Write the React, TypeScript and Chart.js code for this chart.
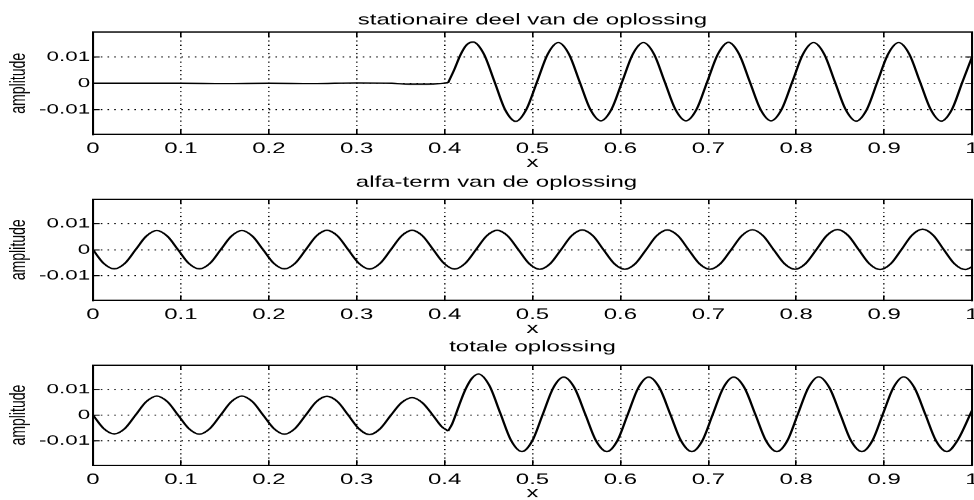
import React, { useEffect, useRef } from 'react';
import { Chart, registerables } from 'chart.js';

Chart.register(...registerables);

// ---------- data ----------
const xTickValues = [0, 0.1, 0.2, 0.3, 0.4, 0.5, 0.6, 0.7, 0.8, 0.9, 1];
const xTickLabels = ['0', '0.1', '0.2', '0.3', '0.4', '0.5', '0.6', '0.7', '0.8', '0.9', '1'];
const yTickValues = [-0.01, 0, 0.01];
const yTickLabels = ['-0.01', '0', '0.01'];
const yMin = -0.0195;
const yMax = 0.0195;

const panelTitles = [
  'stationaire deel van de oplossing',
  'alfa-term van de oplossing',
  'totale oplossing',
];
const xAxisTitle = 'x';
const yAxisTitle = 'amplitude';

// stationary part: flat until the front arrives, then a steady wave
const stationairX = [
  0, 0.05, 0.1, 0.15, 0.2, 0.25, 0.3, 0.34, 0.36, 0.38, 0.395, 0.404,
  0.411, 0.418, 0.425, 0.4325, 0.4446, 0.4568, 0.4689, 0.481,
  0.4931, 0.5052, 0.5173, 0.5294, 0.5415, 0.5536, 0.5657, 0.5778,
  0.5899, 0.602, 0.6141, 0.6262, 0.6383, 0.6504, 0.6625, 0.6746,
  0.6867, 0.6988, 0.7109, 0.723, 0.7351, 0.7472, 0.7593, 0.7714,
  0.7835, 0.7956, 0.8077, 0.8198, 0.8319, 0.844, 0.8561, 0.8682,
  0.8803, 0.8924, 0.9045, 0.9166, 0.9287, 0.9408, 0.9529, 0.965,
  0.9771, 0.9892, 1.0,
];
const stationairY = [
  0, 0, 0, -0.0001, 0, -0.0001, 0.0001, 0, -0.0003, -0.0003, -0.0001, 0.0002,
  0.0052, 0.0108, 0.0146, 0.0157, 0.0112, 0.0006, -0.0101, -0.0145,
  -0.0099, 0.0006, 0.0111, 0.0155, 0.0111, 0.0006, -0.0099, -0.0143,
  -0.0099, 0.0006, 0.0111, 0.0155, 0.0111, 0.0006, -0.0099, -0.0143,
  -0.0099, 0.0006, 0.0111, 0.0156, 0.0111, 0.0006, -0.0099, -0.0143,
  -0.0099, 0.0006, 0.0111, 0.0155, 0.0111, 0.0006, -0.0099, -0.0144,
  -0.0100, 0.0006, 0.0111, 0.0155, 0.0111, 0.0006, -0.0099, -0.0144,
  -0.0100, 0.0006, 0.0100,
];
const stationairKink = 0.404;

// alfa term: small wave over the whole interval
const alfaX = [
  0, 0.0121, 0.0242, 0.0363, 0.0484, 0.0605, 0.0726, 0.0847,
  0.0968, 0.1089, 0.121, 0.1331, 0.1452, 0.1573, 0.1694, 0.1815,
  0.1936, 0.2057, 0.2178, 0.2299, 0.242, 0.2541, 0.2662, 0.2783,
  0.2904, 0.3025, 0.3146, 0.3267, 0.3388, 0.3509, 0.363, 0.3751,
  0.3872, 0.3993, 0.4114, 0.4235, 0.4356, 0.4477, 0.4598, 0.4719,
  0.484, 0.4961, 0.5082, 0.5203, 0.5324, 0.5445, 0.5566, 0.5687,
  0.5808, 0.5929, 0.605, 0.6171, 0.6292, 0.6413, 0.6534, 0.6655,
  0.6776, 0.6897, 0.7018, 0.7139, 0.726, 0.7381, 0.7502, 0.7623,
  0.7744, 0.7865, 0.7986, 0.8107, 0.8228, 0.8349, 0.847, 0.8591,
  0.8712, 0.8833, 0.8954, 0.9075, 0.9196, 0.9317, 0.9438, 0.9559,
  0.968, 0.9801, 0.9922, 1.0,
];
const alfaY = [
  0, -0.0052, -0.0073, -0.0052, 0, 0.0052, 0.0074, 0.0052,
  0, -0.0052, -0.0073, -0.0052, 0, 0.0052, 0.0074, 0.0052,
  0, -0.0052, -0.0073, -0.0052, 0, 0.0053, 0.0075, 0.0053,
  0, -0.0052, -0.0074, -0.0052, 0, 0.0053, 0.0075, 0.0053,
  0, -0.0052, -0.0074, -0.0052, 0, 0.0053, 0.0075, 0.0053,
  0, -0.0053, -0.0075, -0.0053, 0, 0.0054, 0.0076, 0.0054,
  0, -0.0053, -0.0075, -0.0053, 0, 0.0054, 0.0076, 0.0054,
  0, -0.0053, -0.0075, -0.0053, 0, 0.0054, 0.0077, 0.0054,
  0, -0.0053, -0.0075, -0.0053, 0, 0.0055, 0.0078, 0.0055,
  0, -0.0054, -0.0076, -0.0054, 0, 0.0056, 0.0079, 0.0056,
  0, -0.0054, -0.0076, -0.0066,
];

// total solution
const totaalX = [
  0, 0.0121, 0.0242, 0.0363, 0.0484, 0.0605, 0.0726, 0.0847,
  0.0968, 0.1089, 0.121, 0.1331, 0.1452, 0.1573, 0.1694, 0.1815,
  0.1936, 0.2057, 0.2178, 0.2299, 0.242, 0.2541, 0.2662, 0.2783,
  0.2904, 0.3025, 0.3146, 0.3267, 0.3388, 0.3509, 0.363, 0.3751,
  0.3872, 0.3965, 0.404,
  0.4085, 0.4125, 0.418, 0.424, 0.431, 0.4385,
  0.4508, 0.4632, 0.4755, 0.4879,
  0.4998, 0.5117, 0.5236, 0.5355, 0.5478, 0.5601, 0.5723, 0.5846,
  0.5965, 0.6084, 0.6203, 0.6322, 0.6445, 0.6568, 0.669, 0.6813,
  0.6932, 0.7051, 0.717, 0.7289, 0.7412, 0.7535, 0.7657, 0.778,
  0.7899, 0.8018, 0.8137, 0.8256, 0.8379, 0.8502, 0.8624, 0.8747,
  0.8866, 0.8985, 0.9104, 0.9223, 0.9346, 0.9469, 0.9591, 0.9714,
  0.9833, 1.0,
];
const totaalY = [
  0, -0.0052, -0.0073, -0.0052, 0, 0.0052, 0.0074, 0.0052,
  0, -0.0052, -0.0074, -0.0052, 0, 0.0052, 0.0074, 0.0052,
  0, -0.0052, -0.0074, -0.0052, 0, 0.0052, 0.0073, 0.0052,
  0, -0.0053, -0.0076, -0.0053, -0.0001, 0.0048, 0.0068, 0.0047,
  -0.0003, -0.0044, -0.0062,
  -0.0035, 0, 0.0052, 0.0102, 0.0143, 0.016,
  0.0116, 0.0009, -0.0098, -0.0142,
  -0.01, 0.0003, 0.0106, 0.0148, 0.0106, 0.0003, -0.01, -0.0142,
  -0.01, 0.0003, 0.0106, 0.0148, 0.0106, 0.0003, -0.01, -0.0142,
  -0.01, 0.0003, 0.0106, 0.0148, 0.0106, 0.0003, -0.01, -0.0142,
  -0.01, 0.0003, 0.0106, 0.0149, 0.0106, 0.0003, -0.01, -0.0142,
  -0.01, 0.0003, 0.0106, 0.0149, 0.0106, 0.0003, -0.01, -0.0142,
  -0.01, 0.0018,
];
const totaalKink = 0.404;

// ---------- layout ----------
const FONT = "'Liberation Sans', Arial, Helvetica, sans-serif";
const PAGE_W = 974;
const CANVAS_W = 609; // drawn narrow, then stretched to the page width
const STRETCH = PAGE_W / CANVAS_W;
const PLOT_LEFT = 93 / STRETCH;
const PLOT_RIGHT = 972 / STRETCH;
const X_AXIS_H = 35.5;
const X_TICK_LEN = 5;
const Y_TICK_LEN = 6.7 / STRETCH;

type PanelLayout = {
  top: number;
  canvasH: number;
  plotTop: number;
  plotH: number;
  titleY: number;
  titleDx: number;
};

const panelLayouts: PanelLayout[] = [
  { top: 0, canvasH: 170, plotTop: 32, plotH: 102, titleY: 20.2, titleDx: 0 },
  { top: 166, canvasH: 170, plotTop: 33, plotH: 101, titleY: 16.7, titleDx: -36 / STRETCH },
  { top: 332, canvasH: 169, plotTop: 33, plotH: 100, titleY: 15.2, titleDx: 0 },
];

const panelSeries = [
  { xs: stationairX, ys: stationairY, kink: stationairKink as number | null },
  { xs: alfaX, ys: alfaY, kink: null as number | null },
  { xs: totaalX, ys: totaalY, kink: totaalKink as number | null },
];

function toSegments(xs: number[], ys: number[], kink: number | null) {
  const pts = xs.map((x, i) => ({ x, y: ys[i] }));
  if (kink === null) return [pts];
  return [pts.filter((p) => p.x <= kink), pts.filter((p) => p.x >= kink)];
}

function titlePlugin(text: string, dx: number, cy: number) {
  return {
    id: 'panelTitle',
    afterDraw(chart: any) {
      const { ctx, chartArea } = chart;
      ctx.save();
      ctx.font = `15px ${FONT}`;
      ctx.fillStyle = '#000';
      ctx.textAlign = 'center';
      ctx.textBaseline = 'middle';
      ctx.fillText(text, (chartArea.left + chartArea.right) / 2 + dx, cy);
      ctx.restore();
    },
  };
}

const setXTicks = (s: any) => {
  s.ticks = xTickValues.map((v) => ({ value: v }));
};
const setYTicks = (s: any) => {
  s.ticks = yTickValues.map((v) => ({ value: v }));
};

function buildConfig(index: number): any {
  const lay = panelLayouts[index];
  const ser = panelSeries[index];
  const segments = toSegments(ser.xs, ser.ys, ser.kink);
  // border.dash styles the dotted grid lines; the axis line itself stays solid
  const gridBorder = { display: true, color: '#000', width: 1.3, dash: [1, 3.2] };
  const plainBorder = { display: true, color: '#000', width: 1.3 };

  return {
    type: 'scatter',
    data: {
      datasets: segments.map((seg) => ({
        data: seg,
        showLine: true,
        borderColor: '#000',
        borderWidth: 1.5,
        pointRadius: 0,
        pointHoverRadius: 0,
        fill: false,
        cubicInterpolationMode: 'monotone',
        xAxisID: 'x',
        yAxisID: 'y',
      })),
    },
    options: {
      responsive: false,
      animation: false,
      devicePixelRatio: STRETCH,
      events: [],
      layout: {
        padding: {
          top: lay.plotTop,
          left: 0,
          right: CANVAS_W - PLOT_RIGHT,
          bottom: lay.canvasH - lay.plotTop - lay.plotH - X_AXIS_H,
        },
      },
      plugins: {
        legend: { display: false },
        tooltip: { enabled: false },
        title: { display: false },
      },
      scales: {
        x: {
          type: 'linear',
          position: 'bottom',
          min: 0,
          max: 1,
          bounds: 'data',
          afterBuildTicks: setXTicks,
          afterFit: (s: any) => {
            s.height = X_AXIS_H;
            s.paddingLeft = 0;
            s.paddingRight = 0;
          },
          ticks: {
            autoSkip: false,
            maxRotation: 0,
            minRotation: 0,
            padding: 10.5,
            color: '#000',
            font: { family: FONT, size: 15 },
            callback: (_v: number, i: number) => xTickLabels[i],
          },
          grid: {
            color: '#000',
            lineWidth: 1,
            drawTicks: true,
            tickLength: -X_TICK_LEN,
            tickColor: '#000',
            tickWidth: 1,
            tickBorderDash: [],
          },
          border: gridBorder,
          title: {
            display: true,
            text: xAxisTitle,
            color: '#000',
            font: { family: FONT, size: 15, lineHeight: 1 },
            padding: 0,
          },
        },
        xTop: {
          type: 'linear',
          position: 'top',
          min: 0,
          max: 1,
          bounds: 'data',
          afterBuildTicks: setXTicks,
          afterFit: (s: any) => {
            s.height = 0;
            s.paddingLeft = 0;
            s.paddingRight = 0;
          },
          ticks: { display: false },
          grid: {
            drawOnChartArea: false,
            drawTicks: true,
            tickLength: -X_TICK_LEN,
            tickColor: '#000',
            tickWidth: 1,
          },
          border: plainBorder,
        },
        y: {
          type: 'linear',
          position: 'left',
          min: yMin,
          max: yMax,
          bounds: 'data',
          afterBuildTicks: setYTicks,
          afterFit: (s: any) => {
            s.width = PLOT_LEFT;
            s.paddingTop = 0;
            s.paddingBottom = 0;
          },
          ticks: {
            padding: 6,
            color: '#000',
            font: { family: FONT, size: 14 },
            callback: (_v: number, i: number) => yTickLabels[i],
          },
          grid: {
            color: '#000',
            lineWidth: 1,
            drawTicks: true,
            tickLength: -Y_TICK_LEN,
            tickColor: '#000',
            tickWidth: 1,
            tickBorderDash: [],
          },
          border: gridBorder,
          title: {
            display: true,
            text: yAxisTitle,
            color: '#000',
            font: { family: FONT, size: 14, lineHeight: 1 },
            padding: { top: 5, bottom: 0 },
          },
        },
        yRight: {
          type: 'linear',
          position: 'right',
          min: yMin,
          max: yMax,
          bounds: 'data',
          afterBuildTicks: setYTicks,
          afterFit: (s: any) => {
            s.width = 0;
            s.paddingTop = 0;
            s.paddingBottom = 0;
          },
          ticks: { display: false },
          grid: {
            drawOnChartArea: false,
            drawTicks: true,
            tickLength: -Y_TICK_LEN,
            tickColor: '#000',
            tickWidth: 1,
          },
          border: plainBorder,
        },
      },
    },
    plugins: [titlePlugin(panelTitles[index], lay.titleDx, lay.titleY)],
  };
}

function Panel({ index }: { index: number }) {
  const ref = useRef<HTMLCanvasElement | null>(null);
  const lay = panelLayouts[index];

  useEffect(() => {
    if (!ref.current) return;
    const chart = new Chart(ref.current, buildConfig(index));
    return () => chart.destroy();
  }, [index]);

  return (
    <div
      style={{
        position: 'absolute',
        left: 0,
        top: lay.top,
        width: CANVAS_W,
        height: lay.canvasH,
        transform: `scaleX(${STRETCH})`,
        transformOrigin: '0 0',
      }}
    >
      <canvas ref={ref} width={CANVAS_W} height={lay.canvasH} />
    </div>
  );
}

export default function App() {
  return (
    <div
      style={{
        position: 'fixed',
        left: 0,
        top: 0,
        width: PAGE_W,
        height: 500,
        overflow: 'hidden',
        background: '#fff',
      }}
    >
      {panelLayouts.map((_, i) => (
        <Panel key={i} index={i} />
      ))}
    </div>
  );
}
